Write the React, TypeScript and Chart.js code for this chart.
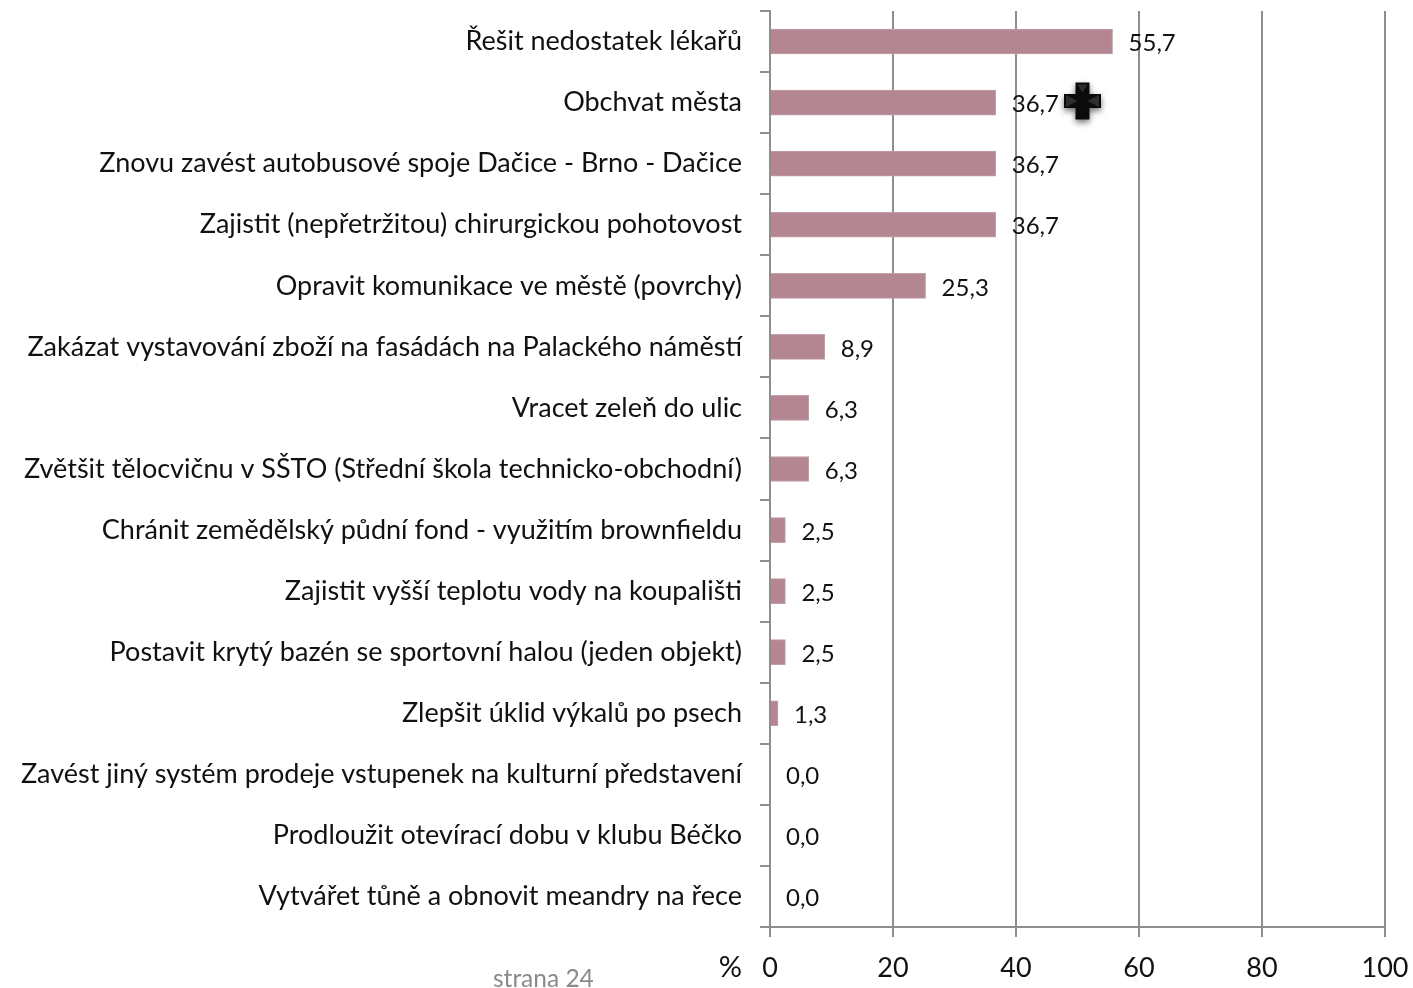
import React, { useEffect, useRef } from "react";
import { Chart, registerables } from "chart.js";

Chart.register(...registerables);

const categories = [
  "Řešit nedostatek lékařů",
  "Obchvat města",
  "Znovu zavést autobusové spoje Dačice - Brno - Dačice",
  "Zajistit (nepřetržitou) chirurgickou pohotovost",
  "Opravit komunikace ve městě (povrchy)",
  "Zakázat vystavování zboží na fasádách na Palackého náměstí",
  "Vracet zeleň do ulic",
  "Zvětšit tělocvičnu v SŠTO (Střední škola technicko-obchodní)",
  "Chránit zemědělský půdní fond - využitím brownfieldu",
  "Zajistit vyšší teplotu vody na koupališti",
  "Postavit krytý bazén se sportovní halou (jeden objekt)",
  "Zlepšit úklid výkalů po psech",
  "Zavést jiný systém prodeje vstupenek na kulturní představení",
  "Prodloužit otevírací dobu v klubu Béčko",
  "Vytvářet tůně a obnovit meandry na řece",
];
const values = [55.7, 36.7, 36.7, 36.7, 25.3, 8.9, 6.3, 6.3, 2.5, 2.5, 2.5, 1.3, 0, 0, 0];
const valueLabels = ["55,7", "36,7", "36,7", "36,7", "25,3", "8,9", "6,3", "6,3", "2,5", "2,5", "2,5", "1,3", "0,0", "0,0", "0,0"];
const xTicks = [0, 20, 40, 60, 80, 100];

const FONT = "Lato, 'Noto Sans', sans-serif";
const GRID = "#8e8e8e";

const valueLabelPlugin = {
  id: "valueLabels",
  afterDatasetsDraw(chart: any) {
    const { ctx } = chart;
    const meta = chart.getDatasetMeta(0);
    ctx.save();
    ctx.font = `24px ${FONT}`;
    ctx.fillStyle = "#111111";
    ctx.textAlign = "left";
    ctx.textBaseline = "middle";
    meta.data.forEach((bar: any, i: number) => {
      ctx.fillText(valueLabels[i], bar.x + 16, bar.y + 2);
    });
    ctx.restore();
  },
};

const extrasPlugin = {
  id: "extras",
  afterDraw(chart: any) {
    const { ctx } = chart;
    ctx.save();
    ctx.textBaseline = "middle";
    ctx.font = `29px ${FONT}`;
    ctx.fillStyle = "#111111";
    ctx.textAlign = "right";
    ctx.fillText("%", 742, 968);
    ctx.font = `24.5px ${FONT}`;
    ctx.fillStyle = "#8a8a8a";
    ctx.textAlign = "left";
    ctx.fillText("strana 24", 493, 979);

    // cursor-like cross marker from the source slide
    const cx = 1082.5;
    const cy = 101;
    const arm = 18.5;
    const half = 7;
    ctx.shadowColor = "rgba(0,0,0,0.55)";
    ctx.shadowBlur = 6;
    ctx.shadowOffsetY = 3;
    ctx.fillStyle = "#0b0b0b";
    ctx.beginPath();
    ctx.rect(cx - half, cy - arm, half * 2, arm * 2);
    ctx.rect(cx - arm, cy - half, arm * 2, half * 2);
    ctx.fill();
    ctx.shadowColor = "transparent";
    ctx.fillStyle = "#2e2e2e";
    ctx.beginPath();
    ctx.moveTo(cx - half + 2, cy - arm + 2);
    ctx.lineTo(cx + half - 2, cy - arm + 2);
    ctx.lineTo(cx, cy - arm + 10);
    ctx.closePath();
    ctx.moveTo(cx - arm + 2, cy - half + 1);
    ctx.lineTo(cx - arm + 2, cy + half - 1);
    ctx.lineTo(cx - 5, cy);
    ctx.closePath();
    ctx.moveTo(cx + arm - 2, cy - half + 1);
    ctx.lineTo(cx + arm - 2, cy + half - 1);
    ctx.lineTo(cx + 5, cy);
    ctx.closePath();
    ctx.fill();
    ctx.restore();
  },
};

export default function App() {
  const ref = useRef<HTMLCanvasElement | null>(null);
  useEffect(() => {
    if (!ref.current) return;
    const chart = new Chart(ref.current, {
      type: "bar",
      data: {
        labels: categories,
        datasets: [
          {
            data: values,
            backgroundColor: "#b48692",
            borderColor: "#c49ea9",
            borderWidth: 1,
            barThickness: 25,
          },
        ],
      },
      plugins: [valueLabelPlugin, extrasPlugin],
      options: {
        indexAxis: "y",
        animation: false,
        responsive: false,
        layout: { padding: { top: 11, right: 28, left: 0, bottom: 0 } },
        plugins: { legend: { display: false }, tooltip: { enabled: false } },
        scales: {
          x: {
            type: "linear",
            min: 0,
            max: 100,
            afterBuildTicks(scale: any) {
              scale.ticks = xTicks.map((value) => ({ value }));
            },
            afterFit(scale: any) {
              scale.height = 61;
              scale.paddingLeft = 0;
              scale.paddingRight = 0;
            },
            border: { color: GRID, width: 2 },
            grid: { color: GRID, lineWidth: 2, tickLength: 10, drawOnChartArea: true },
            ticks: {
              color: "#111111",
              font: { family: FONT, size: 27 },
              padding: 15,
              maxRotation: 0,
              autoSkip: false,
            },
          },
          y: {
            type: "category",
            offset: true,
            afterFit(scale: any) {
              scale.width = 770;
              scale.paddingTop = 0;
              scale.paddingBottom = 0;
            },
            border: { color: GRID, width: 2 },
            grid: { offset: true, color: GRID, lineWidth: 2, tickLength: 10, drawOnChartArea: false },
            ticks: {
              color: "#111111",
              font: { family: FONT, size: 27 },
              padding: 18,
              autoSkip: false,
            },
          },
        },
      },
    } as any);
    return () => chart.destroy();
  }, []);
  return (
    <canvas
      ref={ref}
      width={1413}
      height={988}
      style={{ position: "fixed", left: 0, top: 0, width: 1413, height: 988, display: "block" }}
    />
  );
}
